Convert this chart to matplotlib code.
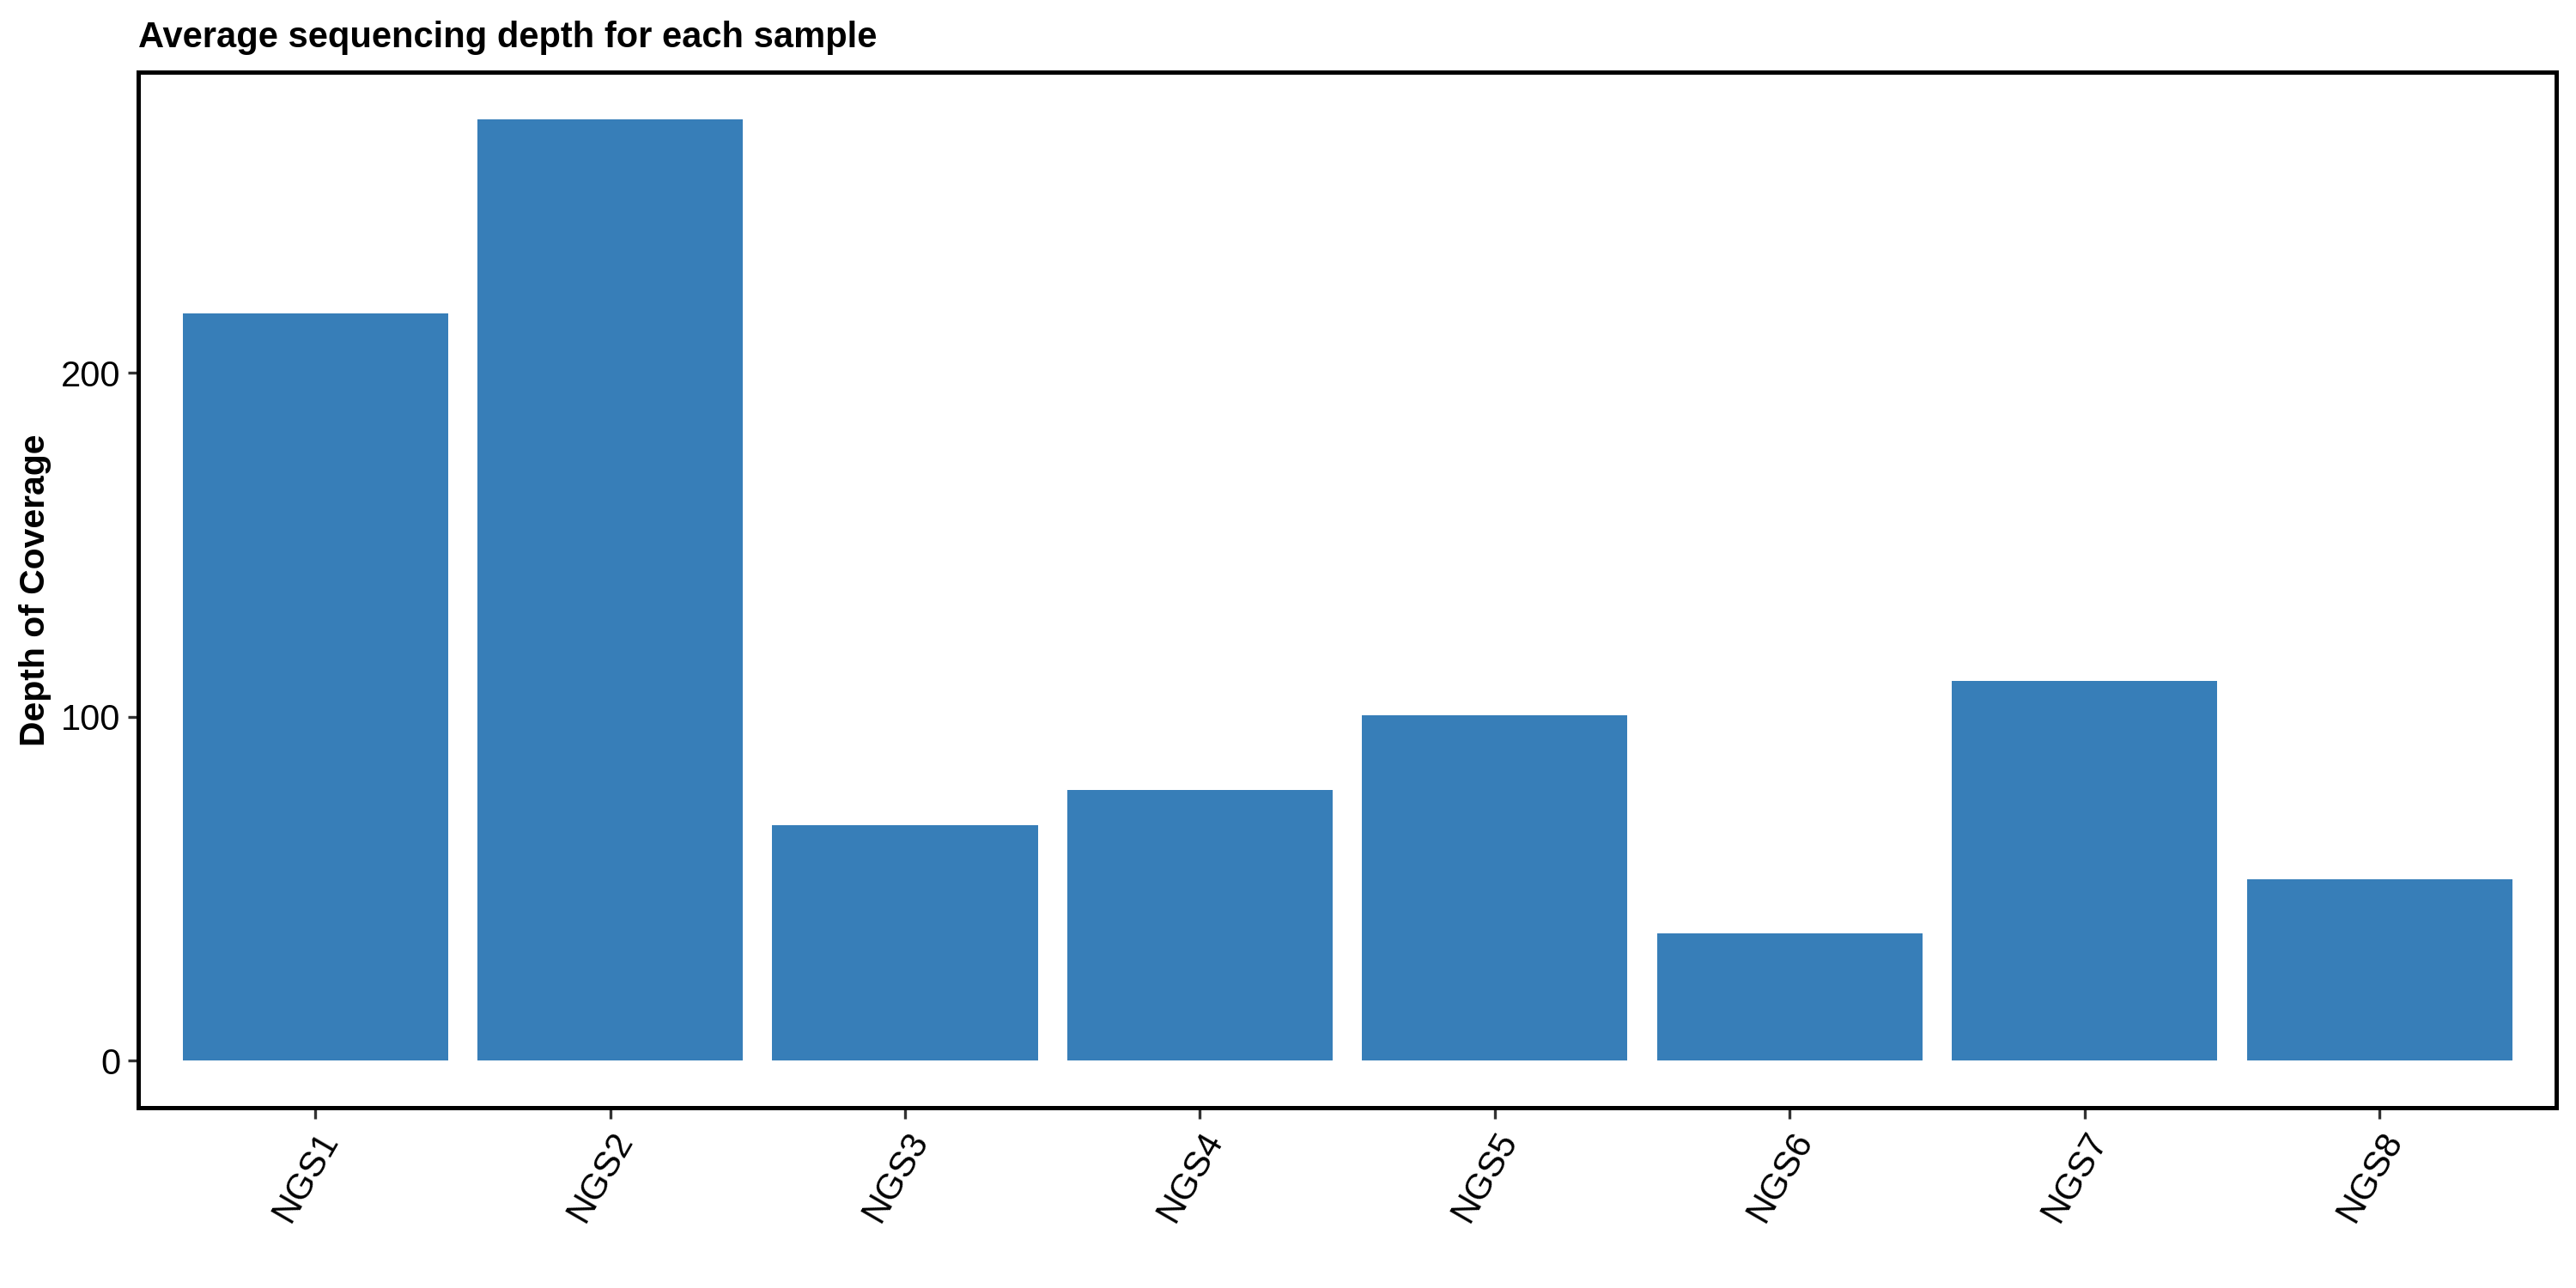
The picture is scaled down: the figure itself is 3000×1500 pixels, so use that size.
import numpy as np
import matplotlib
matplotlib.use('Agg')
import matplotlib.pyplot as plt

plt.rcParams['font.family'] = ['Liberation Sans', 'DejaVu Sans']

samples = ['NGS1', 'NGS2', 'NGS3', 'NGS4', 'NGS5', 'NGS6', 'NGS7', 'NGS8']
depth = [217.3, 273.8, 68.4, 78.8, 100.5, 37.0, 110.5, 52.7]
y_ticks = [0, 100, 200]

BAR_COLOR = '#377EB8'

fig = plt.figure(figsize=(10, 5), dpi=300)
ax = fig.add_axes([0.0537, 0.14, 0.9387, 0.804])

x = np.arange(1, len(samples) + 1)
ax.bar(x, depth, width=0.9, color=BAR_COLOR, zorder=2)

# ggplot-like expansion
ymax = max(depth)
ax.set_ylim(-0.05 * ymax, 1.05 * ymax)
ax.set_xlim(0.4, len(samples) + 0.6)

ax.set_xticks(x)
ax.set_xticklabels(samples, rotation=60, ha='right', va='top',
                   rotation_mode='anchor', fontsize=10)
ax.set_yticks(y_ticks)
ax.set_yticklabels([str(v) for v in y_ticks], fontsize=10)

for spine in ax.spines.values():
    spine.set_linewidth(1.2)
    spine.set_color('black')
ax.tick_params(axis='both', length=3, width=0.8, color='#333333',
               labelcolor='black', pad=2)

ax.set_ylabel('Depth of Coverage', fontsize=9.8, fontweight='bold', labelpad=2.5)
ax.set_title('Average sequencing depth for each sample', loc='left',
             fontsize=10, fontweight='bold', pad=7)

fig.savefig('out.png', dpi=300)
